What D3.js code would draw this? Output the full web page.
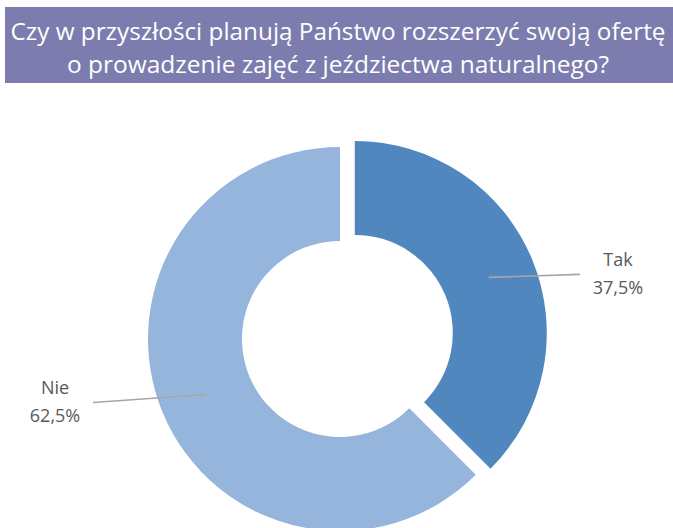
<!DOCTYPE html>
<html>
<head>
<meta charset="utf-8">
<script src="https://cdn.jsdelivr.net/npm/d3@7"></script>
<style>
  html, body { margin: 0; padding: 0; background: #ffffff; }
  svg { display: block; }
</style>
</head>
<body>
<svg id="chart" width="673" height="528"></svg>
<script>
// Survey answers and their shares (percent)
const categories = ["Tak", "Nie"];
const values = [37.5, 62.5];
const valueLabels = ["37,5%", "62,5%"];
const titleLines = [
  "Czy w przyszłości planują Państwo rozszerzyć swoją ofertę",
  "o prowadzenie zajęć z jeździectwa naturalnego?"
];

const colors = d3.scaleOrdinal().domain(categories).range(["#4f87be", "#95b5dd"]);

const svg = d3.select("#chart");
const W = 673, H = 528;

// Title banner
svg.append("rect")
  .attr("x", 5).attr("y", 7)
  .attr("width", W - 5).attr("height", 76)
  .attr("fill", "#7c7cae");

const titleWidths = [655, 542];
svg.selectAll("text.title")
  .data(titleLines)
  .join("text")
  .attr("class", "title")
  .attr("x", 338)
  .attr("y", (d, i) => 40 + i * 33)
  .attr("text-anchor", "middle")
  .attr("font-family", "'Open Sans', sans-serif")
  .attr("font-size", 23)
  .attr("fill", "#ffffff")
  .attr("textLength", (d, i) => titleWidths[i])
  .attr("lengthAdjust", "spacingAndGlyphs")
  .text(d => d);

// Doughnut
const cx = 340, cy = 339;
const outerR = 192, innerR = 98;
const explode = 16;

const data = categories.map((c, i) => ({ name: c, value: values[i], label: valueLabels[i] }));
const pie = d3.pie().sort(null).value(d => d.value);
const arcs = pie(data);

const arc = d3.arc().innerRadius(innerR).outerRadius(outerR);
const midR = (innerR + outerR) / 2;

function offsetOf(d) {
  // only the first slice is pulled out of the ring
  if (d.index !== 0) return [0, 0];
  const a = (d.startAngle + d.endAngle) / 2;
  return [explode * Math.sin(a), -explode * Math.cos(a)];
}

const g = svg.append("g").attr("transform", `translate(${cx},${cy})`);

g.selectAll("path.slice")
  .data(arcs)
  .join("path")
  .attr("class", "slice")
  .attr("transform", d => { const o = offsetOf(d); return `translate(${o[0]},${o[1]})`; })
  .attr("d", arc)
  .attr("fill", d => colors(d.data.name));

// Leader lines and labels
const labelX = [278, -285];   // label centre x relative to the doughnut centre
const lineEndX = [240, -247];

arcs.forEach((d, i) => {
  const o = offsetOf(d);
  const a = (d.startAngle + d.endAngle) / 2;
  const sx = o[0] + midR * Math.sin(a);
  const sy = o[1] - midR * Math.cos(a);
  const ey = sy + (i === 0 ? -3 : 8);
  g.append("line")
    .attr("x1", sx).attr("y1", sy)
    .attr("x2", lineEndX[i]).attr("y2", ey)
    .attr("stroke", "#a6a6a6")
    .attr("stroke-width", 1.6);

  const t = g.append("text")
    .attr("x", labelX[i])
    .attr("y", ey - 8)
    .attr("text-anchor", "middle")
    .attr("font-family", "'Open Sans', sans-serif")
    .attr("font-size", 18)
    .attr("fill", "#595959");
  t.append("tspan").attr("x", labelX[i]).attr("dy", 0).text(d.data.name);
  t.append("tspan").attr("x", labelX[i]).attr("dy", 28).text(d.data.label);
});
</script>
</body>
</html>
